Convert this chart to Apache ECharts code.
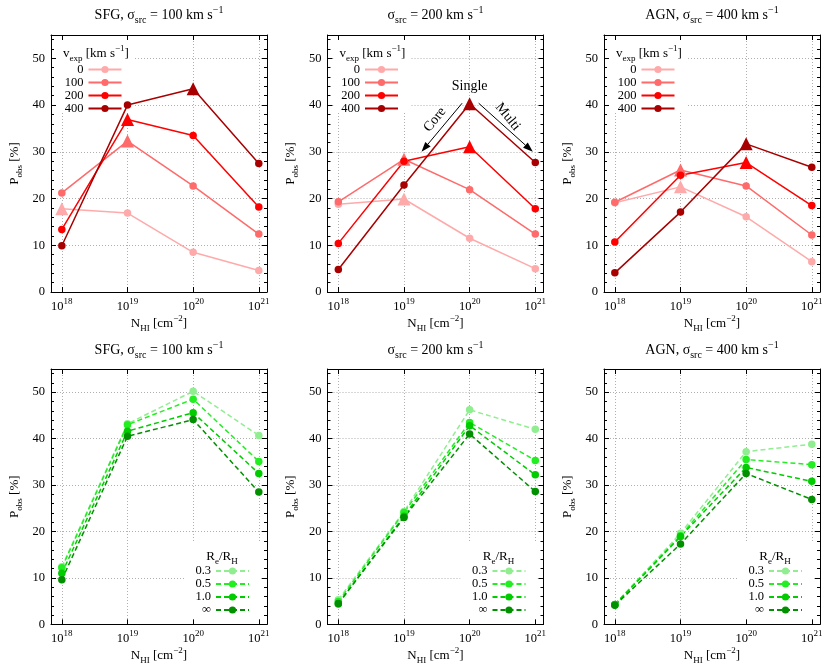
<!DOCTYPE html>
<html><head><meta charset="utf-8">
<script src="https://cdn.jsdelivr.net/npm/echarts@6.0.0/dist/echarts.min.js"></script>
<style>html,body{margin:0;padding:0;background:#fff}#c{width:830px;height:666px}</style>
</head><body><div id="c"></div>
<script>
// ---------------- data ----------------
const nhiExponents = [18, 19, 20, 21];           // N_HI = 10^x cm^-2
const yTickValues = [0, 10, 20, 30, 40, 50];
const vexpLabels = ['0', '100', '200', '400'];
const reLabels = ['0.3', '0.5', '1.0', '∞'];

// top row: P_obs [%] for v_exp = 0,100,200,400 km/s
const sfgV0   = [17.8, 16.9, 8.5, 4.6];
const sfgV100 = [21.2, 32.3, 22.7, 12.4];
const sfgV200 = [13.4, 36.9, 33.5, 18.2];
const sfgV400 = [9.9, 40.0, 43.5, 27.5];
const midV0   = [18.8, 19.9, 11.5, 5.0];
const midV100 = [19.3, 28.4, 21.9, 12.4];
const midV200 = [10.4, 28.0, 31.1, 17.8];
const midV400 = [4.8, 22.9, 40.3, 27.7];
const agnV0   = [19.1, 22.5, 16.1, 6.5];
const agnV100 = [19.2, 26.1, 22.7, 12.2];
const agnV200 = [10.7, 25.0, 27.7, 18.5];
const agnV400 = [4.1, 17.1, 31.7, 26.7];

// bottom row: P_obs [%] for Re/RH = 0.3, 0.5, 1.0, inf
const sfgR03  = [12.4, 43.2, 50.2, 40.7];
const sfgR05  = [12.2, 43.0, 48.5, 35.1];
const sfgR10  = [11.0, 41.6, 45.6, 32.5];
const sfgRinf = [9.6, 40.5, 44.1, 28.5];
const midR03  = [5.3, 24.3, 46.2, 42.0];
const midR05  = [4.9, 24.1, 43.5, 35.3];
const midR10  = [4.4, 23.3, 42.8, 32.2];
const midRinf = [4.5, 23.0, 41.0, 28.6];
const agnR03  = [4.3, 19.6, 37.2, 38.8];
const agnR05  = [4.3, 19.1, 35.5, 34.4];
const agnR10  = [4.2, 18.9, 33.8, 30.8];
const agnRinf = [4.1, 17.3, 32.5, 26.9];

const panelTitles = [
  '{b|SFG, σ}{sub|src}{b| = 100 km s}{sup|−1}',
  '{b|σ}{sub|src}{b| = 200 km s}{sup|−1}',
  '{b|AGN, σ}{sub|src}{b| = 400 km s}{sup|−1}'
];

// ---------------- styling / layout ----------------
const FONT = '"Liberation Serif", "Times New Roman", serif';
const W = 830;
const GW = 216;
const GRIDS = [
  {left: 51, top: 35, height: 257}, {left: 327.5, top: 35, height: 257}, {left: 604, top: 35, height: 257},
  {left: 51, top: 369, height: 256}, {left: 327.5, top: 369, height: 256}, {left: 604, top: 369, height: 256}
];
const XMIN = 17.835, XMAX = 21.125;
const reds = ['#ffaaaa', '#ff6a6a', '#ff0000', '#a80000'];
const greens = ['#90ee90', '#22ee22', '#00cc00', '#009000'];

function rich(base, small) {
  return {
    b:   {fontFamily: FONT, fontSize: base, lineHeight: base + 6, verticalAlign: 'middle', color: '#000', fill: '#000'},
    sup: {fontFamily: FONT, fontSize: small, lineHeight: small, verticalAlign: 'top', color: '#000', fill: '#000'},
    sub: {fontFamily: FONT, fontSize: small, lineHeight: small, verticalAlign: 'bottom', color: '#000', fill: '#000'}
  };
}

const topSets = [
  [sfgV0, sfgV100, sfgV200, sfgV400],
  [midV0, midV100, midV200, midV400],
  [agnV0, agnV100, agnV200, agnV400]
];
const botSets = [
  [sfgR03, sfgR05, sfgR10, sfgRinf],
  [midR03, midR05, midR10, midRinf],
  [agnR03, agnR05, agnR10, agnRinf]
];

function mkSeries(gi, name, vals, color, dashed, markMax) {
  let maxI = -1;
  if (markMax) maxI = vals.indexOf(Math.max.apply(null, vals));
  return {
    type: 'line', name: name, xAxisIndex: gi * 2, yAxisIndex: gi * 2, z: 2,
    data: vals.map((v, i) => i === maxI
      ? {value: [nhiExponents[i], v], symbol: 'triangle', symbolSize: 13}
      : [nhiExponents[i], v]),
    symbol: 'circle', symbolSize: 7.5, showSymbol: true,
    lineStyle: {color: color, width: 1.5, type: dashed ? [5, 3] : 'solid'},
    itemStyle: {color: color},
    emphasis: {disabled: true}, silent: true
  };
}

const grid = [], xAxis = [], yAxis = [], series = [], legend = [], graphic = [];

GRIDS.forEach((g, gi) => {
  grid.push({left: g.left, top: g.top, width: GW, height: g.height, containLabel: false});
  const gridLine = {show: true, lineStyle: {color: '#b0b0b0', type: [1, 2], width: 1}};
  xAxis.push({
    gridIndex: gi, type: 'value', min: XMIN, max: XMAX, position: 'bottom',
    axisLine: {show: true, onZero: false, lineStyle: {color: '#000', width: 1}},
    axisTick: {show: true, inside: true, length: 5, customValues: nhiExponents, lineStyle: {color: '#000'}},
    axisLabel: {show: true, customValues: nhiExponents, margin: 5,
      formatter: v => '{b|10}{sup|' + Math.round(v) + '}', rich: rich(12.5, 9)},
    splitLine: gridLine,
    name: '{b|N}{sub|HI}{b| [cm}{sup|−2}{b|]}', nameLocation: 'middle', nameGap: 21,
    nameTextStyle: {rich: rich(13, 9)}
  });
  xAxis.push({
    gridIndex: gi, type: 'value', min: XMIN, max: XMAX, position: 'top',
    axisLine: {show: true, onZero: false, lineStyle: {color: '#000', width: 1}},
    axisTick: {show: true, inside: true, length: 5, customValues: nhiExponents, lineStyle: {color: '#000'}},
    axisLabel: {show: false}, splitLine: {show: false}
  });
  yAxis.push({
    gridIndex: gi, type: 'value', min: 0, max: 55, interval: 10, position: 'left',
    axisLine: {show: true, onZero: false, lineStyle: {color: '#000', width: 1}},
    axisTick: {show: true, inside: true, length: 5, lineStyle: {color: '#000'}},
    minorTick: {show: true, splitNumber: 5, length: 3, lineStyle: {color: '#000'}},
    axisLabel: {show: true, customValues: yTickValues, margin: 6, color: '#000', fontFamily: FONT, fontSize: 12.5},
    splitLine: gridLine,
    name: '{b|P}{sub|obs}{b| [%]}', nameLocation: 'middle', nameGap: 27,
    nameTextStyle: {rich: rich(13, 9)}
  });
  yAxis.push({
    gridIndex: gi, type: 'value', min: 0, max: 55, interval: 10, position: 'right',
    axisLine: {show: true, onZero: false, lineStyle: {color: '#000', width: 1}},
    axisTick: {show: true, inside: true, length: 5, lineStyle: {color: '#000'}},
    minorTick: {show: true, splitNumber: 5, length: 3, lineStyle: {color: '#000'}},
    axisLabel: {show: false}, splitLine: {show: false}
  });

  const top = gi < 3;
  const col = gi % 3;
  const sets = top ? topSets[col] : botSets[col];
  const names = top ? vexpLabels : reLabels;
  const cols = top ? reds : greens;
  sets.forEach((vals, k) => series.push(mkSeries(gi, names[k], vals, cols[k], !top, top)));

  const gRight = g.left + GW, gBottom = g.top + g.height;
  legend.push({
    data: names, orient: 'vertical', align: 'right',
    right: top ? W - (g.left + 71.5) : W - (gRight - 17),
    top: top ? g.top + 28 : g.top + 195.5,
    itemWidth: 33, itemHeight: 9, itemGap: 0, padding: 0,
    selectedMode: false, z: 4,
    textStyle: {fontFamily: FONT, fontSize: 12.5, color: '#000'}
  });

  // white key box that hides grid lines (drawn under the data)
  graphic.push(top
    ? {type: 'rect', shape: {x: g.left + 6, y: g.top + 6, width: 77, height: 72}, style: {fill: '#fff'}, z: 1, silent: true}
    : {type: 'rect', shape: {x: gRight - 83, y: gBottom - 82, width: 77, height: 76}, style: {fill: '#fff'}, z: 1, silent: true});

  // panel titles
  graphic.push({type: 'text', x: g.left + GW / 2, y: top ? 15 : 350, z: 5, silent: true,
    style: {text: panelTitles[col], rich: rich(14, 10), align: 'center', verticalAlign: 'middle', fill: '#000', font: '14px ' + FONT}});
  // key headers
  if (top) {
    graphic.push({type: 'text', x: g.left + 12, y: g.top + 19, z: 5, silent: true,
      style: {text: '{b|v}{sub|exp}{b| [km s}{sup|−1}{b|]}', rich: rich(13, 9), align: 'left', verticalAlign: 'middle', fill: '#000', font: '13px ' + FONT}});
  } else {
    graphic.push({type: 'text', x: gRight - 45, y: g.top + 188, z: 5, silent: true,
      style: {text: '{b|R}{sub|e}{b|/R}{sub|H}', rich: rich(13, 9), align: 'center', verticalAlign: 'middle', fill: '#000', font: '13px ' + FONT}});
  }
});

const chart = echarts.init(document.getElementById('c'), null, {renderer: 'canvas'});
chart.setOption({
  animation: false, backgroundColor: '#fff',
  grid, xAxis, yAxis, series, legend, graphic
});

// annotations in panel 2 (data coordinates)
const annotTexts = [
  {text: 'Single', at: [20.0, 44.0], rot: 0},
  {text: 'Core', at: [19.47, 36.9], rot: 51},
  {text: 'Multi', at: [20.58, 37.5], rot: -51}
];
const annotArrows = [
  {from: [19.885, 40.4], to: [19.267, 30.0]},
  {from: [20.138, 40.4], to: [20.963, 30.0]}
];
const conv = p => chart.convertToPixel({xAxisIndex: 2, yAxisIndex: 2}, p);
const extra = graphic.slice();
annotTexts.forEach(a => {
  const p = conv(a.at);
  extra.push({type: 'text', x: p[0], y: p[1], rotation: a.rot * Math.PI / 180, z: 5, silent: true,
    style: {text: a.text, align: 'center', verticalAlign: 'middle', fill: '#000', font: '14px ' + FONT}});
});
annotArrows.forEach(a => {
  const p1 = conv(a.from), p2 = conv(a.to);
  const dx = p2[0] - p1[0], dy = p2[1] - p1[1];
  const L = Math.hypot(dx, dy), ux = dx / L, uy = dy / L;
  const hl = 10, hw = 3.5;
  const bx = p2[0] - ux * hl, by = p2[1] - uy * hl;
  extra.push({type: 'line', z: 5, silent: true, shape: {x1: p1[0], y1: p1[1], x2: bx, y2: by},
    style: {stroke: '#000', lineWidth: 1}});
  extra.push({type: 'polygon', z: 5, silent: true,
    shape: {points: [[p2[0], p2[1]], [bx - uy * hw, by + ux * hw], [bx + uy * hw, by - ux * hw]]},
    style: {fill: '#000'}});
});
chart.setOption({graphic: extra});
</script></body></html>
